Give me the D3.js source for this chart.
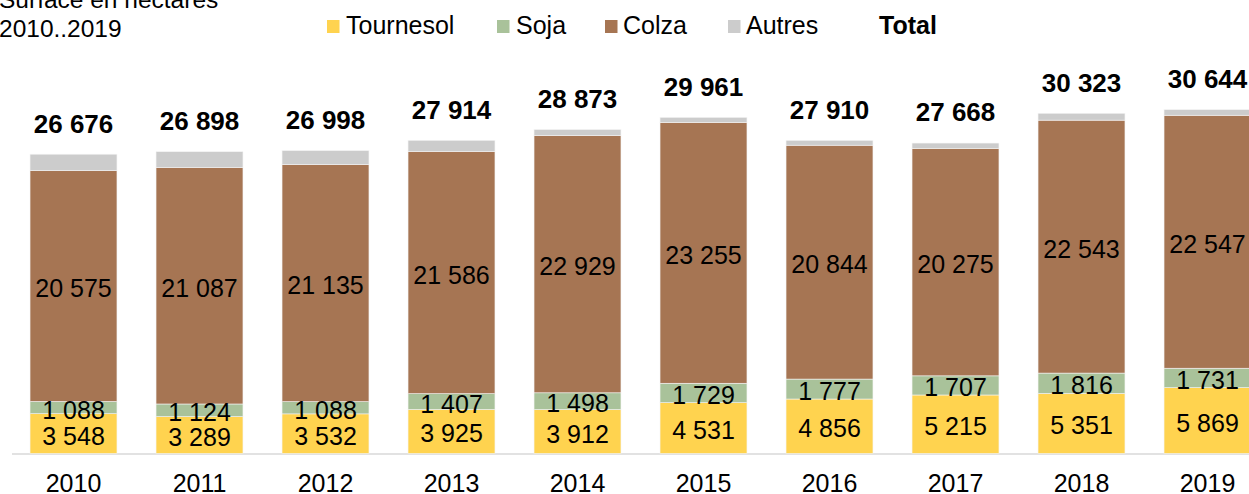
<!DOCTYPE html>
<meta charset="utf-8">
<style>
  body { margin: 0; background: #fff; }
  svg { display: block; font-family: "Liberation Sans", Arial, sans-serif; }
</style>
<svg width="1249" height="494"></svg>
<script src="https://cdn.jsdelivr.net/npm/d3@7"></script>
<script>

var years = ["2010", "2011", "2012", "2013", "2014", "2015", "2016", "2017", "2018", "2019"];
var tournesol = [3548, 3289, 3532, 3925, 3912, 4531, 4856, 5215, 5351, 5869];
var soja = [1088, 1124, 1088, 1407, 1498, 1729, 1777, 1707, 1816, 1731];
var colza = [20575, 21087, 21135, 21586, 22929, 23255, 20844, 20275, 22543, 22547];
var autres = [1465, 1398, 1243, 996, 534, 446, 433, 471, 613, 497];
var totals = [26676, 26898, 26998, 27914, 28873, 29961, 27910, 27668, 30323, 30644];

var seriesNames = ["Tournesol", "Soja", "Colza", "Autres"];
var colors = ["#FFD34F", "#A9C29A", "#A67553", "#CCCCCC"];

var svg = d3.select("svg"),
    width = +svg.attr("width"),
    height = +svg.attr("height");

var fmt = function(v) { return d3.format(",")(v).replace(/,/g, " "); };

var rows = years.map(function(y, i) {
  return { year: y, Tournesol: tournesol[i], Soja: soja[i], Colza: colza[i], Autres: autres[i], total: totals[i] };
});

var stack = d3.stack().keys(seriesNames);
var layers = stack(rows);

var x = d3.scaleBand()
    .domain(years)
    .range([10.5, 1270.5])
    .paddingInner(0.31)
    .paddingOuter(0.155);

var y = d3.scaleLinear()
    .domain([0, 35000])
    .range([453.5, 60.8]);

// title
var title = svg.append("text")
    .attr("font-size", 24.5)
    .attr("fill", "#000");
title.append("tspan").attr("x", -1).attr("y", 8).text("Surface en hectares");
title.append("tspan").attr("x", -1).attr("y", 37).text("2010..2019");

// legend
var legendItems = [
  { name: "Tournesol", sq: 327, tx: 346 },
  { name: "Soja", sq: 497, tx: 516 },
  { name: "Colza", sq: 605, tx: 623 },
  { name: "Autres", sq: 728, tx: 746 }
];
legendItems.forEach(function(d, i) {
  svg.append("rect")
      .attr("x", d.sq).attr("y", 20)
      .attr("width", 12.5).attr("height", 13)
      .attr("fill", colors[i]);
  svg.append("text")
      .attr("x", d.tx).attr("y", 33.5)
      .attr("font-size", 25)
      .text(d.name);
});
svg.append("text")
    .attr("x", 879).attr("y", 33.5)
    .attr("font-size", 25)
    .attr("font-weight", "bold")
    .text("Total");

// axis line
svg.append("line")
    .attr("x1", 12).attr("x2", width)
    .attr("y1", y(0) + 0.5).attr("y2", y(0) + 0.5)
    .attr("stroke", "#D9D9D9")
    .attr("stroke-width", 1.5);

// bars
var g = svg.append("g");
g.selectAll("g.layer")
    .data(layers)
  .enter().append("g")
    .attr("class", "layer")
    .attr("fill", function(d, i) { return colors[i]; })
  .selectAll("rect")
    .data(function(d) { return d; })
  .enter().append("rect")
    .attr("x", function(d) { return x(d.data.year); })
    .attr("y", function(d) { return y(d[1]); })
    .attr("width", x.bandwidth())
    .attr("height", function(d) { return y(d[0]) - y(d[1]); })
    .attr("stroke", "#f4f4f4")
    .attr("stroke-width", 0.6);

// segment labels (not for Autres)
layers.slice(0, 3).forEach(function(layer) {
  g.selectAll(null)
      .data(layer)
    .enter().append("text")
      .attr("x", function(d) { return x(d.data.year) + x.bandwidth() / 2; })
      .attr("y", function(d) { return (y(d[0]) + y(d[1])) / 2 + 2; })
      .attr("dy", "0.36em")
      .attr("text-anchor", "middle")
      .attr("font-size", 25)
      .text(function(d) { return fmt(d[1] - d[0]); });
});

// totals
g.selectAll("text.total")
    .data(rows)
  .enter().append("text")
    .attr("class", "total")
    .attr("x", function(d) { return x(d.year) + x.bandwidth() / 2; })
    .attr("y", function(d) { return y(d.total) - 31; })
    .attr("dy", "0.36em")
    .attr("text-anchor", "middle")
    .attr("font-size", 26)
    .attr("font-weight", "bold")
    .text(function(d) { return fmt(d.total); });

// x axis labels
var xAxis = d3.axisBottom(x).tickSize(0).tickPadding(0);
var ax = svg.append("g")
    .attr("transform", "translate(0," + 474 + ")")
    .call(xAxis);
ax.select(".domain").remove();
ax.selectAll("text")
    .attr("font-size", 25)
    .attr("font-family", "Liberation Sans, Arial, sans-serif")
    .attr("fill", "#000");

</script>
